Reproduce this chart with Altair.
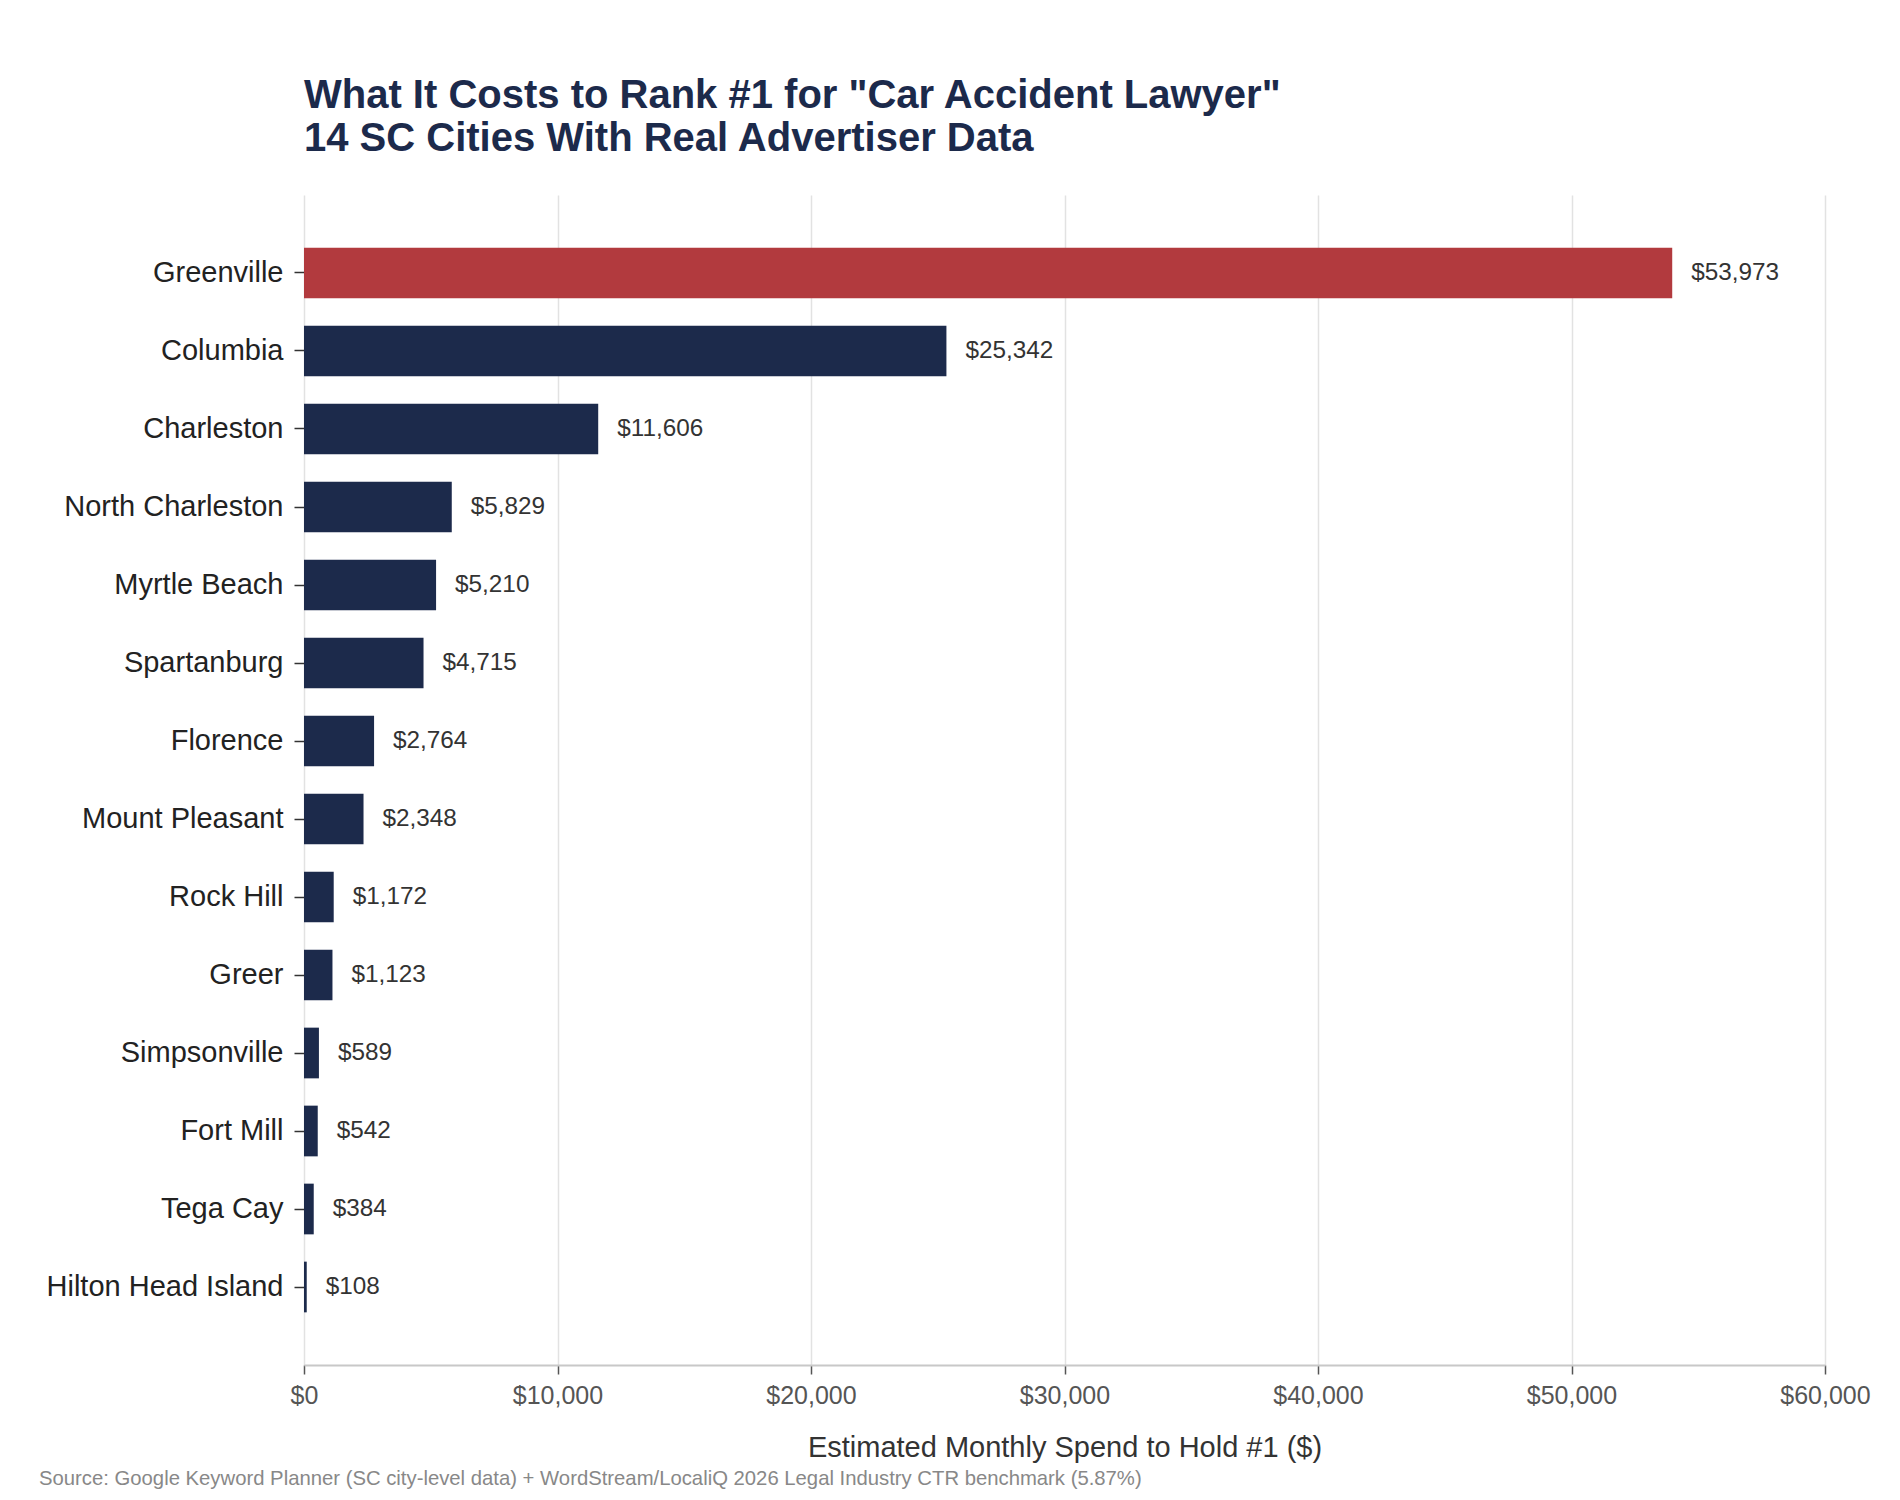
import altair as alt
import pandas as pd

cities = ["Greenville", "Columbia", "Charleston", "North Charleston", "Myrtle Beach",
          "Spartanburg", "Florence", "Mount Pleasant", "Rock Hill", "Greer",
          "Simpsonville", "Fort Mill", "Tega Cay", "Hilton Head Island"]
spend = [53973, 25342, 11606, 5829, 5210, 4715, 2764, 2348, 1172, 1123, 589, 542, 384, 108]
highlight_city = "Greenville"
x_ticks = [0, 10000, 20000, 30000, 40000, 50000, 60000]

title_lines = ['What It Costs to Rank #1 for "Car Accident Lawyer"',
               "14 SC Cities With Real Advertiser Data"]
x_title = "Estimated Monthly Spend to Hold #1 ($)"
source_text = ("Source: Google Keyword Planner (SC city-level data) + WordStream/LocaliQ 2026 "
               "Legal Industry CTR benchmark (5.87%)")

NAVY = "#1c2a4b"
RED = "#b23a3e"
FONT = "Liberation Sans"

df = pd.DataFrame({"city": cities, "spend": spend})
df["label"] = ["$" + format(v, ",") for v in spend]

y_enc = alt.Y(
    "city:N", sort=cities,
    scale=alt.Scale(paddingInner=0.35, paddingOuter=0.675),
    axis=alt.Axis(title=None, labelFontSize=29, labelColor="#222222", labelFont=FONT,
                  labelLimit=500,
                  tickColor="#333333", tickSize=10, tickWidth=1.5, labelPadding=11,
                  domain=False, grid=False),
)
x_enc = alt.X(
    "spend:Q",
    scale=alt.Scale(domain=[0, 60000], nice=False),
    axis=alt.Axis(values=x_ticks, format="$,.0f", title=x_title,
                  labelFontSize=25, labelColor="#555555", labelFont=FONT,
                  labelFlush=False, labelOverlap=False, labelPadding=9,
                  tickColor="#555555", tickSize=9, tickWidth=1.5,
                  domainColor="#c8c8c8", domainWidth=2,
                  grid=True, gridColor="#e2e2e2", gridWidth=1.5,
                  titleFontSize=29, titleFontWeight="normal", titleColor="#333333",
                  titleFont=FONT, titlePadding=25),
)

base = alt.Chart(df)

bars = base.mark_bar().encode(
    y=y_enc, x=x_enc,
    color=alt.condition(alt.datum.city == highlight_city, alt.value(RED), alt.value(NAVY)),
)

labels = base.mark_text(align="left", baseline="middle", dx=19, fontSize=24.3,
                        color="#333333", font=FONT).encode(
    y=alt.Y("city:N", sort=cities), x=alt.X("spend:Q"), text="label:N"
)

foot = alt.Chart(pd.DataFrame({"t": [source_text]})).mark_text(
    align="left", baseline="alphabetic", fontSize=20.3, color="#888888", font=FONT
).encode(text="t:N", x=alt.value(-265), y=alt.value(1290))

chart = alt.layer(bars, labels, foot).properties(
    width=1521, height=1170,
    padding={"left": 296, "top": 187, "right": 60, "bottom": 125},
    autosize=alt.AutoSizeParams(type="none"),
    title=alt.Title(text=title_lines, anchor="start", frame="group", font=FONT,
                    fontSize=40, fontWeight="bold", color=NAVY, lineHeight=43.5,
                    offset=36),
).configure(font=FONT).configure_view(stroke=None)

chart.save("out.html", embed_options={"renderer": "svg", "actions": False})
